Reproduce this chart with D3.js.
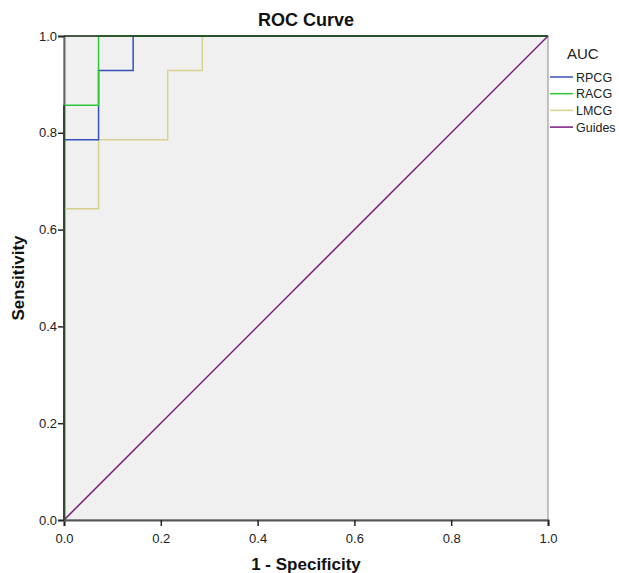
<html>
<head>
<script src="https://cdn.jsdelivr.net/npm/d3@7"></script>
<style>
  body { margin: 0; background: #fff; }
  text { font-family: "Liberation Sans", Arial, sans-serif; }
</style>
</head>
<body>
<svg id="chart" width="619" height="573"></svg>
<script>
// ROC points (1 - specificity, sensitivity)
var rpcgX = [0, 0, 0.0714, 0.0714, 0.1429, 0.1429, 1];
var rpcgY = [0, 0.7857, 0.7857, 0.9286, 0.9286, 1, 1];
var racgX = [0, 0, 0.0714, 0.0714, 1];
var racgY = [0, 0.8571, 0.8571, 1, 1];
var lmcgX = [0, 0, 0.0714, 0.0714, 0.2143, 0.2143, 0.2857, 0.2857, 1];
var lmcgY = [0, 0.6429, 0.6429, 0.7857, 0.7857, 0.9286, 0.9286, 1, 1];
var guideX = [0, 1];
var guideY = [0, 1];
var seriesNames = ["RPCG", "RACG", "LMCG", "Guides"];
var seriesColors = ["#3551bd", "#2ec83a", "#d8d08e", "#7a1a7c"];
var ticks = [0, 0.2, 0.4, 0.6, 0.8, 1.0];

var svg = d3.select("#chart");
var pL = 64, pR = 548, pT = 36, pB = 520;

var x = d3.scaleLinear().domain([0, 1]).range([pL, pR]);
var y = d3.scaleLinear().domain([0, 1]).range([pB, pT]);

svg.append("rect")
  .attr("x", pL).attr("y", pT)
  .attr("width", pR - pL).attr("height", pB - pT)
  .attr("fill", "#f0f0f0")
  .attr("stroke", "#888").attr("stroke-width", 1);

var xAxis = d3.axisBottom(x).tickValues(ticks).tickFormat(d3.format(".1f")).tickSize(6);
var yAxis = d3.axisLeft(y).tickValues(ticks).tickFormat(d3.format(".1f")).tickSize(6);

var gx = svg.append("g").attr("transform", "translate(0," + pB + ")").call(xAxis);
var gy = svg.append("g").attr("transform", "translate(" + pL + ",0)").call(yAxis);
[gx, gy].forEach(function (g) {
  g.select(".domain").attr("stroke", "#666").attr("stroke-width", 2);
  g.selectAll(".tick line").attr("stroke", "#222").attr("stroke-width", 1.5);
  g.selectAll(".tick text").attr("font-size", 13).attr("fill", "#222")
    .style("font-family", "'Liberation Sans', Arial, sans-serif");
});
gx.select(".domain").attr("stroke", "#555");
gx.selectAll(".tick text").attr("dy", "1.05em");
gy.selectAll(".tick text").attr("x", -7);

var series = [
  { xs: guideX, ys: guideY, c: 3 },
  { xs: lmcgX, ys: lmcgY, c: 2 },
  { xs: rpcgX, ys: rpcgY, c: 0 },
  { xs: racgX, ys: racgY, c: 1 }
];

var line = d3.line().x(function (d) { return x(d[0]); }).y(function (d) { return y(d[1]); });

series.forEach(function (s) {
  var pts = s.xs.map(function (v, j) { return [v, s.ys[j]]; });
  svg.append("path")
    .attr("d", line(pts))
    .attr("fill", "none")
    .attr("stroke", seriesColors[s.c])
    .attr("stroke-width", 1.5);
});

// overlapping curves look dark along the left and top edges
svg.append("line").attr("x1", x(0)).attr("x2", x(0)).attr("y1", y(0)).attr("y2", y(racgY[1]))
  .attr("stroke", "#2f4a30").attr("stroke-width", 2);
svg.append("line").attr("x1", x(0)).attr("x2", x(1)).attr("y1", y(1)).attr("y2", y(1))
  .attr("stroke", "#26331f").attr("stroke-width", 1.5);

svg.append("text").attr("x", 306).attr("y", 26).attr("text-anchor", "middle")
  .attr("font-size", 18).attr("font-weight", "bold").attr("fill", "#111").text("ROC Curve");
svg.append("text").attr("x", 306).attr("y", 570).attr("text-anchor", "middle")
  .attr("font-size", 17).attr("font-weight", "bold").attr("fill", "#111").text("1 - Specificity");
svg.append("text").attr("transform", "translate(24," + 278 + ") rotate(-90)").attr("text-anchor", "middle")
  .attr("font-size", 17).attr("font-weight", "bold").attr("fill", "#111").text("Sensitivity");

// legend
svg.append("text").attr("x", 567).attr("y", 59).attr("font-size", 15).attr("fill", "#222").text("AUC");
seriesNames.forEach(function (n, i) {
  var ly = 77 + i * 16.7;
  svg.append("line").attr("x1", 550).attr("x2", 573).attr("y1", ly).attr("y2", ly)
    .attr("stroke", seriesColors[i]).attr("stroke-width", 1.5);
  svg.append("text").attr("x", 576).attr("y", ly + 4.5).attr("font-size", 12.5).attr("fill", "#222").text(n);
});
</script>
</body>
</html>
